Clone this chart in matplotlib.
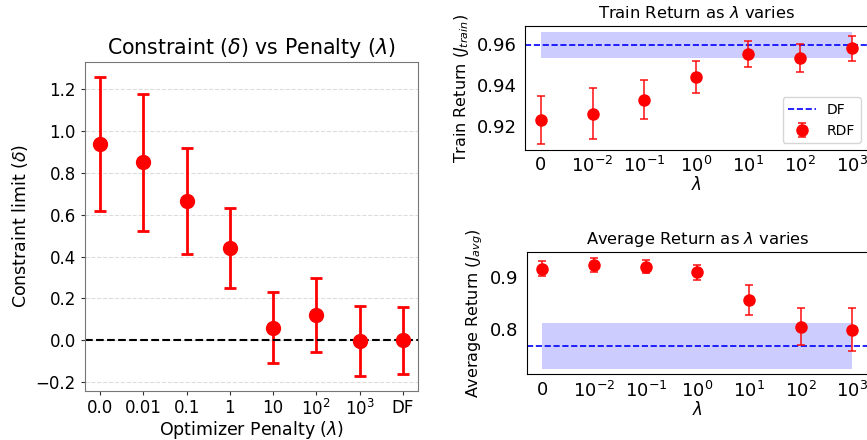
import numpy as np
import matplotlib
matplotlib.use("Agg")
import matplotlib.pyplot as plt

# left panel: constraint vs penalty
pen_labels = ["0.0", "0.01", "0.1", "1", "10", r"$10^2$", r"$10^3$", "DF"]
delta_mean = [0.94, 0.85, 0.665, 0.44, 0.06, 0.12, -0.005, 0.0]
delta_err = [0.32, 0.33, 0.255, 0.19, 0.17, 0.177, 0.167, 0.16]

# right panels: returns as lambda varies
lam_labels = ["0", r"$10^{-2}$", r"$10^{-1}$", r"$10^{0}$", r"$10^{1}$", r"$10^{2}$", r"$10^{3}$"]
train_mean = [0.9227, 0.9258, 0.9327, 0.9437, 0.9551, 0.9529, 0.9577]
train_err = [0.0119, 0.0124, 0.0095, 0.0080, 0.0064, 0.0067, 0.0061]
train_df = 0.9595
train_df_band = (0.9530, 0.9659)

avg_mean = [0.9172, 0.9238, 0.9208, 0.9103, 0.8565, 0.8049, 0.7997]
avg_err = [0.0147, 0.0140, 0.0131, 0.0143, 0.0296, 0.0356, 0.0408]
avg_df = 0.7688
avg_df_band = (0.7242, 0.8127)

fig = plt.figure(figsize=(8.67, 4.4), dpi=100)

# ---- left
ax = fig.add_axes([0.098, 0.1114, 0.384, 0.748])
x = np.arange(len(pen_labels))
ax.errorbar(x, delta_mean, yerr=delta_err, fmt='o', color='red', markersize=10,
            elinewidth=2, capsize=4.5, capthick=2)
ax.axhline(0, color='black', linestyle='--', linewidth=1.5)
ax.set_xticks(x)
ax.set_xticklabels(pen_labels)
ax.set_yticks([-0.2, 0.0, 0.2, 0.4, 0.6, 0.8, 1.0, 1.2])
ax.yaxis.grid(True, linestyle='--', color='#dddddd', linewidth=0.8)
ax.set_axisbelow(True)
for s in ax.spines.values():
    s.set_color('#777777')
ax.tick_params(labelsize=12, colors='#333333', labelcolor='black', length=3)
ax.tick_params(axis='x', pad=2.5)
ax.set_title(r"Constraint ($\delta$) vs Penalty ($\lambda$)", fontsize=14.8)
ax.set_xlabel(r"Optimizer Penalty ($\lambda$)", fontsize=12.5, labelpad=0.5)
ax.set_ylabel(r"Constraint limit ($\delta$)", fontsize=12.5)


def return_panel(a, mean, err, df, band, title, ylabel, yticks):
    xl = np.arange(len(lam_labels))
    a.fill_between([xl[0], xl[-1]], band[0], band[1],
                   color='blue', alpha=0.2, linewidth=0)
    a.axhline(df, color='blue', linestyle='--', linewidth=1.2, label='DF')
    a.errorbar(xl, mean, yerr=err, fmt='o', color='red', markersize=8,
               ecolor=(1, 0, 0, 0.8), elinewidth=1.3, capsize=3, capthick=1.3,
               label='RDF')
    a.set_xlim(-0.3, 6.3)
    a.set_xticks(xl)
    a.set_xticklabels(lam_labels)
    a.set_yticks(yticks)
    a.tick_params(labelsize=13, length=0, pad=6)
    a.tick_params(axis='x', pad=4.5)
    a.set_title(title, fontsize=11.8)
    a.set_xlabel(r"$\lambda$", fontsize=12, labelpad=0)
    a.set_ylabel(ylabel, fontsize=11.5)


ax1 = fig.add_axes([0.6055, 0.659, 0.3956, 0.282])
return_panel(ax1, train_mean, train_err, train_df, train_df_band,
             r"Train Return as $\lambda$ varies", r"Train Return ($J_{train}$)",
             [0.92, 0.94, 0.96])
ax1.legend(loc='lower right', fontsize=10)

ax2 = fig.add_axes([0.6078, 0.1493, 0.3933, 0.2773])
return_panel(ax2, avg_mean, avg_err, avg_df, avg_df_band,
             r"Average Return as $\lambda$ varies", r"Average Return ($J_{avg}$)",
             [0.8, 0.9])

fig.savefig("out.png", dpi=100)
